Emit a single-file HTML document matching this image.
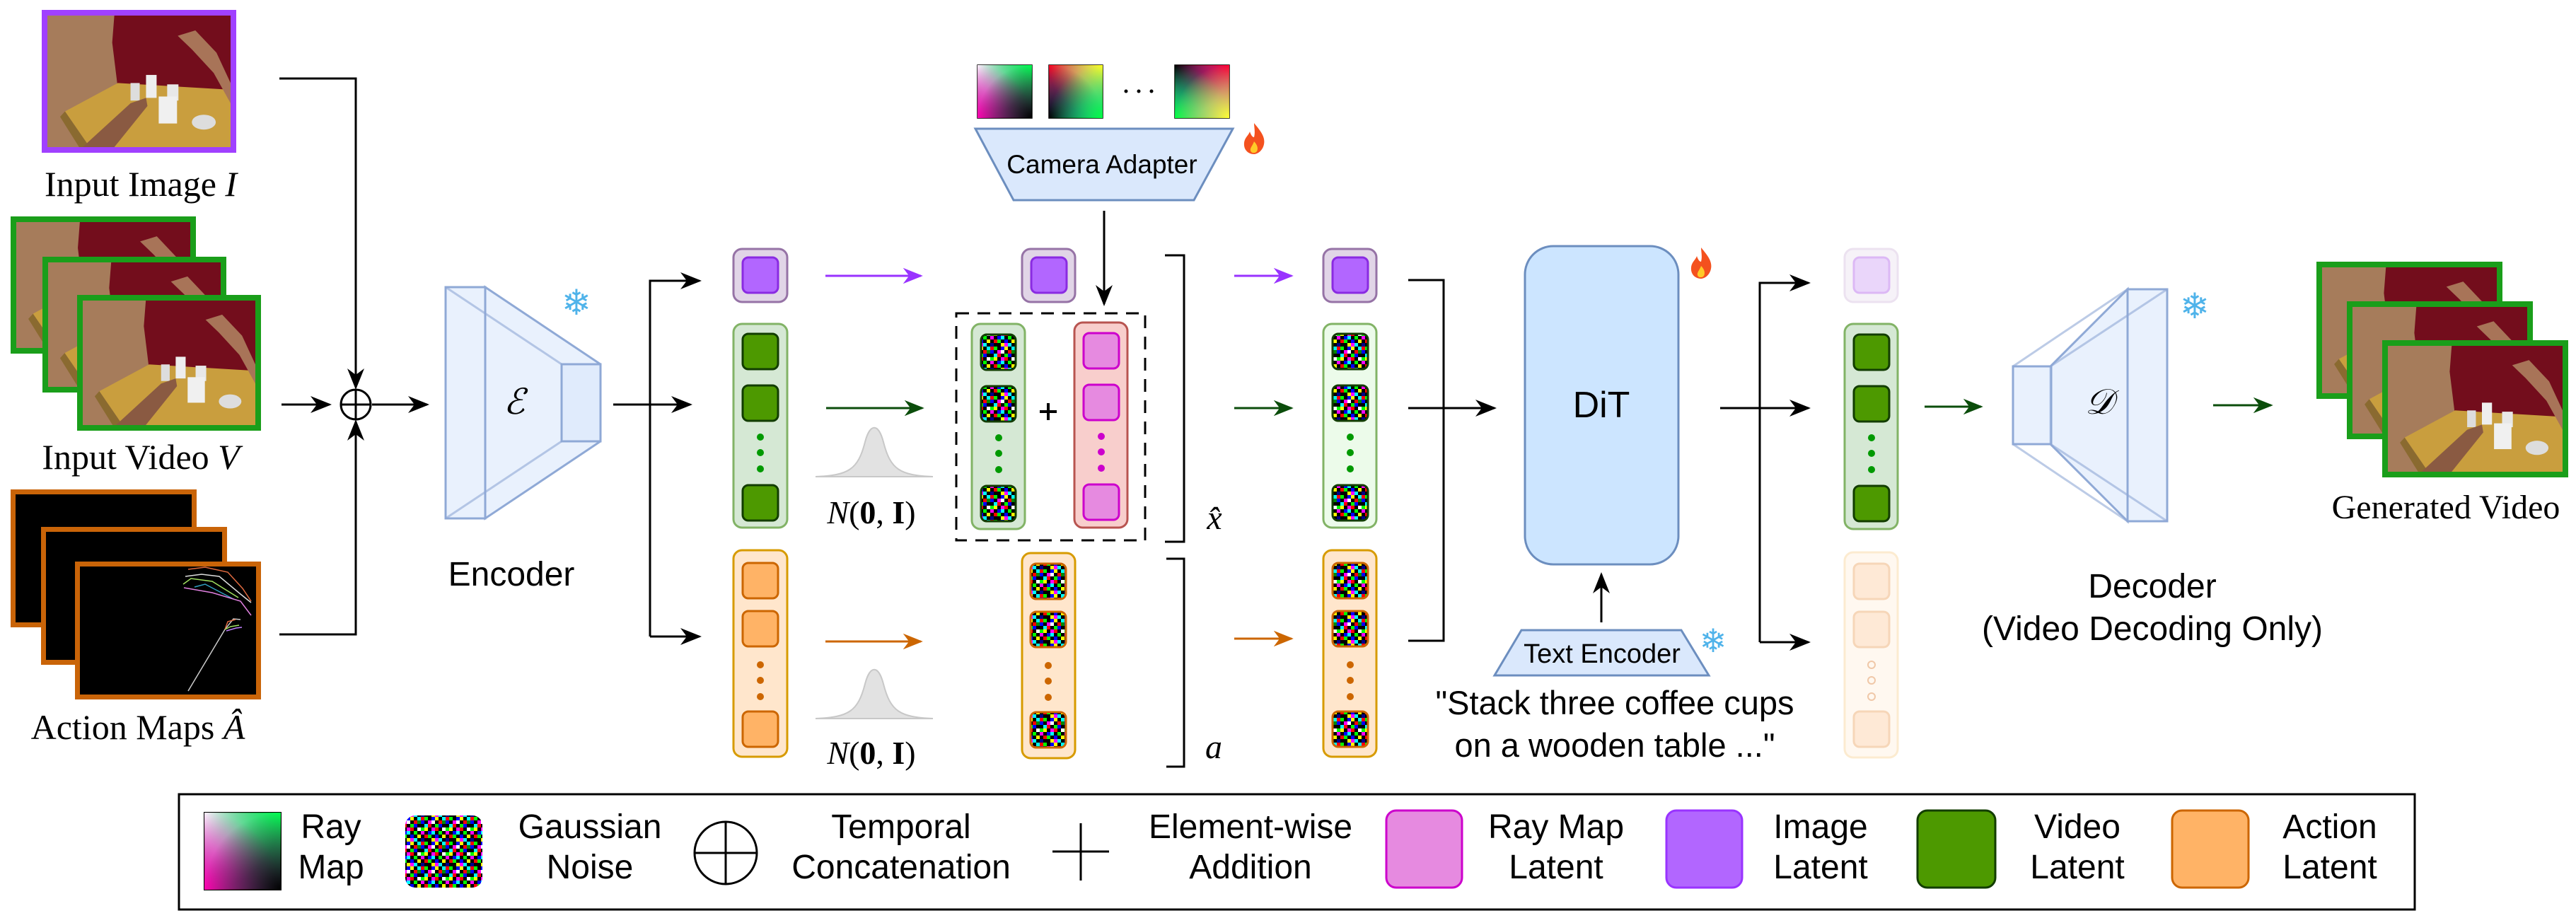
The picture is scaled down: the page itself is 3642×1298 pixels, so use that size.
<!DOCTYPE html>
<html><head><meta charset="utf-8"><style>html,body{margin:0;padding:0;background:#fff}svg{display:block}</style></head>
<body>
<svg xmlns="http://www.w3.org/2000/svg" width="3642" height="1298" viewBox="0 0 3642 1298">
<defs>
<marker id="ak" viewBox="0 0 10 10" refX="9" refY="5" markerWidth="30" markerHeight="30" markerUnits="userSpaceOnUse" orient="auto"><path d="M0,1 L10,5 L0,9 L3,5 z" fill="#000"/></marker>
<marker id="ap" viewBox="0 0 10 10" refX="9" refY="5" markerWidth="28" markerHeight="28" markerUnits="userSpaceOnUse" orient="auto"><path d="M0,1 L10,5 L0,9 L3,5 z" fill="#9933ff"/></marker>
<marker id="ag" viewBox="0 0 10 10" refX="9" refY="5" markerWidth="28" markerHeight="28" markerUnits="userSpaceOnUse" orient="auto"><path d="M0,1 L10,5 L0,9 L3,5 z" fill="#0b4d0b"/></marker>
<marker id="ao" viewBox="0 0 10 10" refX="9" refY="5" markerWidth="28" markerHeight="28" markerUnits="userSpaceOnUse" orient="auto"><path d="M0,1 L10,5 L0,9 L3,5 z" fill="#cc6600"/></marker>
<pattern id="nz" width="35" height="35" patternUnits="userSpaceOnUse">
<rect width="35" height="35" fill="#000"/>
<rect x="0" y="0" width="5" height="5" fill="#f00"/><rect x="5" y="0" width="5" height="5" fill="#0f0"/><rect x="15" y="0" width="5" height="5" fill="#00f"/><rect x="20" y="0" width="5" height="5" fill="#ff0"/><rect x="30" y="0" width="5" height="5" fill="#0ff"/>
<rect x="0" y="5" width="5" height="5" fill="#00f"/><rect x="10" y="5" width="5" height="5" fill="#f0f"/><rect x="15" y="5" width="5" height="5" fill="#fff"/><rect x="25" y="5" width="5" height="5" fill="#f00"/><rect x="30" y="5" width="5" height="5" fill="#080"/>
<rect x="5" y="10" width="5" height="5" fill="#0ff"/><rect x="10" y="10" width="5" height="5" fill="#f00"/><rect x="20" y="10" width="5" height="5" fill="#0f0"/><rect x="25" y="10" width="5" height="5" fill="#00f"/>
<rect x="0" y="15" width="5" height="5" fill="#0f0"/><rect x="5" y="15" width="5" height="5" fill="#ff0"/><rect x="15" y="15" width="5" height="5" fill="#f0f"/><rect x="20" y="15" width="5" height="5" fill="#f00"/><rect x="30" y="15" width="5" height="5" fill="#fff"/>
<rect x="0" y="20" width="5" height="5" fill="#f0f"/><rect x="10" y="20" width="5" height="5" fill="#00f"/><rect x="15" y="20" width="5" height="5" fill="#0ff"/><rect x="25" y="20" width="5" height="5" fill="#0f0"/>
<rect x="5" y="25" width="5" height="5" fill="#f00"/><rect x="10" y="25" width="5" height="5" fill="#0f0"/><rect x="20" y="25" width="5" height="5" fill="#00f"/><rect x="30" y="25" width="5" height="5" fill="#ff0"/>
<rect x="0" y="30" width="5" height="5" fill="#008"/><rect x="15" y="30" width="5" height="5" fill="#ff0"/><rect x="20" y="30" width="5" height="5" fill="#f0f"/><rect x="25" y="30" width="5" height="5" fill="#0ff"/>
</pattern>
<radialGradient id="a1" cx="0" cy="0" r="1"><stop offset="0" stop-color="#fff0ff"/><stop offset="1" stop-color="#fff0ff" stop-opacity="0"/></radialGradient>
<radialGradient id="b1" cx="1" cy="0" r="1"><stop offset="0" stop-color="#00ff50"/><stop offset="1" stop-color="#00ff50" stop-opacity="0"/></radialGradient>
<radialGradient id="c1" cx="0" cy="1" r="1"><stop offset="0" stop-color="#ff00b0"/><stop offset="1" stop-color="#ff00b0" stop-opacity="0"/></radialGradient>
<radialGradient id="d1" cx="1" cy="1" r="1"><stop offset="0" stop-color="#000"/><stop offset="1" stop-color="#000" stop-opacity="0"/></radialGradient>
<radialGradient id="a2" cx="0" cy="0" r="1"><stop offset="0" stop-color="#ff0020"/><stop offset="1" stop-color="#ff0020" stop-opacity="0"/></radialGradient>
<radialGradient id="b2" cx="1" cy="0" r="1"><stop offset="0" stop-color="#ffff20"/><stop offset="1" stop-color="#ffff20" stop-opacity="0"/></radialGradient>
<radialGradient id="c2" cx="0" cy="1" r="1"><stop offset="0" stop-color="#000"/><stop offset="1" stop-color="#000" stop-opacity="0"/></radialGradient>
<radialGradient id="d2" cx="1" cy="1" r="1"><stop offset="0" stop-color="#00ff40"/><stop offset="1" stop-color="#00ff40" stop-opacity="0"/></radialGradient>
<radialGradient id="a3" cx="0" cy="0" r="1"><stop offset="0" stop-color="#000"/><stop offset="1" stop-color="#000" stop-opacity="0"/></radialGradient>
<radialGradient id="b3" cx="1" cy="0" r="1"><stop offset="0" stop-color="#ff0030"/><stop offset="1" stop-color="#ff0030" stop-opacity="0"/></radialGradient>
<radialGradient id="c3" cx="0" cy="1" r="1"><stop offset="0" stop-color="#00ff40"/><stop offset="1" stop-color="#00ff40" stop-opacity="0"/></radialGradient>
<radialGradient id="d3" cx="1" cy="1" r="1"><stop offset="0" stop-color="#ffff30"/><stop offset="1" stop-color="#ffff30" stop-opacity="0"/></radialGradient>
<symbol id="photo" viewBox="0 0 260 195" preserveAspectRatio="none">
<rect width="260" height="195" fill="#a67c5b"/>
<path d="M95,0 H260 V125 L100,108 L92,40 Z" fill="#730d1c"/>
<path d="M25,142 L100,100 L260,110 V195 H60 Z" fill="#c99e3e"/>
<path d="M25,142 L60,195 H45 L18,150 Z" fill="#8a6a30"/>
<rect x="140" y="88" width="15" height="34" fill="#eee"/><rect x="118" y="100" width="13" height="26" fill="#ddd"/>
<rect x="170" y="102" width="16" height="24" fill="#e8e8e8"/><rect x="158" y="120" width="26" height="40" fill="#f0f0f0"/>
<ellipse cx="222" cy="158" rx="17" ry="11" fill="#ddd"/>
<path d="M50,195 L118,130 L140,122 L142,134 L95,195 Z" fill="#8a5a42"/>
<path d="M185,30 L210,22 L240,55 L260,100 L260,130 L236,85 L205,50 Z" fill="#a87458"/>
</symbol>
</defs>

<!-- Input image -->
<rect x="59" y="14" width="275" height="202" fill="#a040ff"/>
<use href="#photo" x="67" y="22" width="259" height="186"/>
<text x="199" y="277" font-family="Liberation Serif, serif" font-size="50" text-anchor="middle">Input Image <tspan font-style="italic">I</tspan></text>

<!-- Input video -->
<rect x="15" y="306" width="262" height="194" fill="#1a9e1a"/><use href="#photo" x="23" y="314" width="246" height="178"/>
<rect x="60" y="363" width="260" height="192" fill="#1a9e1a"/><use href="#photo" x="68" y="371" width="244" height="176"/>
<rect x="109" y="417" width="260" height="192" fill="#1a9e1a"/><use href="#photo" x="117" y="425" width="244" height="176"/>
<text x="199" y="663" font-family="Liberation Serif, serif" font-size="50" text-anchor="middle">Input Video <tspan font-style="italic">V</tspan></text>

<!-- Action maps -->
<rect x="15" y="692" width="263" height="195" fill="#c96408"/><rect x="22" y="699" width="249" height="181" fill="#000"/>
<rect x="58" y="745" width="263" height="195" fill="#c96408"/><rect x="65" y="752" width="249" height="181" fill="#000"/>
<rect x="106" y="794" width="263" height="195" fill="#c96408"/><rect x="113" y="801" width="249" height="181" fill="#000"/>
<g fill="none" stroke-width="1.5">
<path d="M266,805 L290,802 L322,809 L343,832 L355,850" stroke="#e06a40"/>
<path d="M262,815 L285,812 L310,815 L340,840 L355,852" stroke="#ddd"/>
<path d="M259,826 L270,818 L300,822 L337,845" stroke="#a0e060"/>
<path d="M275,830 L290,826 L330,847" stroke="#30a0c0"/>
<path d="M260,831 L300,838 L340,850 L355,870" stroke="#e080e0"/>
<path d="M266,977 L318,890 L330,875 L340,876" stroke="#ccc"/>
<path d="M318,890 L322,879 L333,876" stroke="#e06a40"/>
<path d="M318,890 L326,886 L338,884" stroke="#a0e060"/>
<path d="M320,892 L334,888 L342,887" stroke="#c080ff"/>
</g>
<text x="195" y="1045" font-family="Liberation Serif, serif" font-size="50" text-anchor="middle">Action Maps  <tspan font-style="italic">Â</tspan></text>

<!-- concat arrows -->
<g stroke="#000" stroke-width="3" fill="none">
<path d="M395,111 H503 V548" marker-end="url(#ak)"/>
<path d="M395,897 H503 V596" marker-end="url(#ak)"/>
<path d="M398,572 H466" marker-end="url(#ak)"/>
<path d="M526,572 H604" marker-end="url(#ak)"/>
<circle cx="503" cy="572" r="21"/><path d="M482,572 H524 M503,551 V593"/>
</g>

<!-- Encoder -->
<g stroke="#8fa9d6" stroke-width="3" fill="#dae8fc" fill-opacity="0.6">
<polygon points="686,406 849,515 849,624 686,733"/>
<rect x="794" y="515" width="55" height="109"/>
<rect x="630" y="406" width="56" height="327"/>
<path d="M630,406 L794,515 M630,733 L794,624" fill="none" stroke-opacity="0.6"/>
</g>
<text x="727" y="585" font-family="DejaVu Serif, serif" font-style="italic" font-size="50" text-anchor="middle">ℰ</text>
<text x="815" y="445" font-family="DejaVu Sans, sans-serif" font-size="50" fill="#4fb3ea" text-anchor="middle">❄</text>
<text x="723" y="828" font-family="Liberation Sans, sans-serif" font-size="48" text-anchor="middle">Encoder</text>

<!-- split arrows -->
<g stroke="#000" stroke-width="3" fill="none">
<path d="M867,572 H976" marker-end="url(#ak)"/>
<path d="M919,900 V397 H989" marker-end="url(#ak)"/>
<path d="M919,900 H989" marker-end="url(#ak)"/>
</g>

<!-- Column 1 -->
<rect x="1037" y="352" width="76" height="75" rx="12" fill="#e1d5e7" stroke="#9673a6" stroke-width="3"/>
<rect x="1050" y="364" width="50" height="50" rx="8" fill="#b266ff" stroke="#8a2be2" stroke-width="3"/>
<rect x="1037" y="458" width="76" height="288" rx="12" fill="#d5e8d4" stroke="#82b366" stroke-width="3"/>
<g fill="#4d9900" stroke="#123d00" stroke-width="3">
<rect x="1050" y="472" width="50" height="50" rx="8"/><rect x="1050" y="545" width="50" height="50" rx="8"/><rect x="1050" y="686" width="50" height="50" rx="8"/></g>
<g fill="#009900"><circle cx="1075" cy="618" r="5"/><circle cx="1075" cy="640" r="5"/><circle cx="1075" cy="663" r="5"/></g>
<rect x="1037" y="778" width="76" height="292" rx="12" fill="#ffe6cc" stroke="#d79b00" stroke-width="3"/>
<g fill="#ffb366" stroke="#cc6600" stroke-width="3">
<rect x="1050" y="796" width="50" height="50" rx="8"/><rect x="1050" y="864" width="50" height="50" rx="8"/><rect x="1050" y="1006" width="50" height="50" rx="8"/></g>
<g fill="#cc6600"><circle cx="1075" cy="940" r="5"/><circle cx="1075" cy="962" r="5"/><circle cx="1075" cy="985" r="5"/></g>

<!-- arrows col1->col2 -->
<path d="M1167,390 H1302" stroke="#9933ff" stroke-width="3" marker-end="url(#ap)"/>
<path d="M1168,577 H1304" stroke="#0b4d0b" stroke-width="3" marker-end="url(#ag)"/>
<path d="M1167,907 H1302" stroke="#cc6600" stroke-width="3" marker-end="url(#ao)"/>
<path d="M1153,674 C1200,672 1213,664 1223,625 C1230,598 1242,598 1249,625 C1259,664 1272,672 1319,674 Z" fill="#e2e2e2" stroke="#c8c8c8" stroke-width="2"/>
<path d="M1153,1016 C1200,1014 1213,1006 1223,967 C1230,940 1242,940 1249,967 C1259,1006 1272,1014 1319,1016 Z" fill="#e2e2e2" stroke="#c8c8c8" stroke-width="2"/>
<text x="1232" y="740" font-family="Liberation Serif, serif" font-size="46" text-anchor="middle"><tspan font-style="italic">N</tspan>(<tspan font-weight="bold">0</tspan>, <tspan font-weight="bold">I</tspan>)</text>
<text x="1232" y="1080" font-family="Liberation Serif, serif" font-size="46" text-anchor="middle"><tspan font-style="italic">N</tspan>(<tspan font-weight="bold">0</tspan>, <tspan font-weight="bold">I</tspan>)</text>

<!-- Ray maps + camera adapter -->
<g stroke="#000" stroke-width="1.5">
<rect x="1382" y="92" width="77" height="75" fill="#8080b0"/><rect x="1382" y="92" width="77" height="75" fill="url(#a1)" stroke="none"/><rect x="1382" y="92" width="77" height="75" fill="url(#b1)" stroke="none"/><rect x="1382" y="92" width="77" height="75" fill="url(#c1)" stroke="none"/><rect x="1382" y="92" width="77" height="75" fill="url(#d1)" stroke="none"/>
<rect x="1483" y="92" width="76" height="75" fill="#6080ff"/><rect x="1483" y="92" width="76" height="75" fill="url(#a2)" stroke="none"/><rect x="1483" y="92" width="76" height="75" fill="url(#b2)" stroke="none"/><rect x="1483" y="92" width="76" height="75" fill="url(#c2)" stroke="none"/><rect x="1483" y="92" width="76" height="75" fill="url(#d2)" stroke="none"/>
<rect x="1661" y="92" width="77" height="75" fill="#6060ff"/><rect x="1661" y="92" width="77" height="75" fill="url(#a3)" stroke="none"/><rect x="1661" y="92" width="77" height="75" fill="url(#b3)" stroke="none"/><rect x="1661" y="92" width="77" height="75" fill="url(#c3)" stroke="none"/><rect x="1661" y="92" width="77" height="75" fill="url(#d3)" stroke="none"/>
</g>
<g fill="#000"><circle cx="1592" cy="129" r="2.5"/><circle cx="1610" cy="129" r="2.5"/><circle cx="1628" cy="129" r="2.5"/></g>
<polygon points="1379,182 1743,182 1688,283 1433,283" fill="#dae8fc" stroke="#6c8ebf" stroke-width="3"/>
<text x="1558" y="245" font-family="Liberation Sans, sans-serif" font-size="37" text-anchor="middle">Camera Adapter</text>
<g transform="translate(1773,196)"><path d="M0,-22 C10,-10 16,-2 14,8 C12,18 4,22 0,22 C-8,22 -15,16 -14,6 C-13,-2 -8,-4 -6,-10 C-4,-4 -2,-2 0,-2 C2,-10 0,-16 0,-22Z" fill="#f4511e"/><path d="M0,4 C5,9 6,14 4,18 C2,21 -4,21 -5,17 C-6,13 -2,10 0,4Z" fill="#ffca28"/></g>
<path d="M1561,298 V430" stroke="#000" stroke-width="3" marker-end="url(#ak)"/>

<!-- Column 2 -->
<rect x="1445" y="352" width="75" height="75" rx="12" fill="#e1d5e7" stroke="#9673a6" stroke-width="3"/>
<rect x="1458" y="364" width="50" height="50" rx="8" fill="#b266ff" stroke="#8a2be2" stroke-width="3"/>
<rect x="1352" y="443" width="267" height="321" fill="none" stroke="#000" stroke-width="3" stroke-dasharray="18,12"/>
<rect x="1374" y="458" width="75" height="290" rx="12" fill="#d5e8d4" stroke="#82b366" stroke-width="3"/>
<g fill="url(#nz)" stroke="#123d00" stroke-width="3">
<rect x="1387" y="473" width="49" height="50" rx="8"/><rect x="1387" y="546" width="49" height="50" rx="8"/><rect x="1387" y="687" width="49" height="50" rx="8"/></g>
<g fill="#009900"><circle cx="1412" cy="619" r="5"/><circle cx="1412" cy="641" r="5"/><circle cx="1412" cy="664" r="5"/></g>
<path d="M1470,582 H1494 M1482,570 V594" stroke="#000" stroke-width="4"/>
<rect x="1519" y="456" width="75" height="290" rx="12" fill="#f8cecc" stroke="#b85450" stroke-width="3"/>
<g fill="#e68ae0" stroke="#cc00cc" stroke-width="3">
<rect x="1532" y="471" width="50" height="50" rx="8"/><rect x="1532" y="544" width="50" height="50" rx="8"/><rect x="1532" y="685" width="50" height="50" rx="8"/></g>
<g fill="#cc00cc"><circle cx="1557" cy="617" r="5"/><circle cx="1557" cy="639" r="5"/><circle cx="1557" cy="662" r="5"/></g>
<rect x="1445" y="782" width="75" height="290" rx="12" fill="#ffe6cc" stroke="#d79b00" stroke-width="3"/>
<g fill="url(#nz)" stroke="#cc6600" stroke-width="3">
<rect x="1457" y="797" width="50" height="50" rx="8"/><rect x="1457" y="865" width="50" height="50" rx="8"/><rect x="1457" y="1007" width="50" height="50" rx="8"/></g>
<g fill="#cc6600"><circle cx="1482" cy="941" r="5"/><circle cx="1482" cy="963" r="5"/><circle cx="1482" cy="986" r="5"/></g>

<!-- brackets -->
<path d="M1647,361 H1674 V766 H1647" fill="none" stroke="#000" stroke-width="3"/>
<path d="M1649,790 H1674 V1084 H1649" fill="none" stroke="#000" stroke-width="3"/>
<text x="1717" y="748" font-family="Liberation Serif, serif" font-style="italic" font-size="48" text-anchor="middle">x̂</text>
<text x="1716" y="1072" font-family="Liberation Serif, serif" font-style="italic" font-size="48" text-anchor="middle">a</text>

<path d="M1745,390 H1826" stroke="#9933ff" stroke-width="3" marker-end="url(#ap)"/>
<path d="M1745,577 H1826" stroke="#0b4d0b" stroke-width="3" marker-end="url(#ag)"/>
<path d="M1745,903 H1826" stroke="#cc6600" stroke-width="3" marker-end="url(#ao)"/>

<!-- Column 3 -->
<rect x="1871" y="352" width="75" height="75" rx="12" fill="#e1d5e7" stroke="#9673a6" stroke-width="3"/>
<rect x="1884" y="364" width="50" height="50" rx="8" fill="#b266ff" stroke="#8a2be2" stroke-width="3"/>
<rect x="1871" y="458" width="75" height="288" rx="12" fill="#ecfbea" stroke="#82b366" stroke-width="3"/>
<g fill="url(#nz)" stroke="#123d00" stroke-width="3">
<rect x="1884" y="472" width="50" height="50" rx="8"/><rect x="1884" y="545" width="50" height="50" rx="8"/><rect x="1884" y="686" width="50" height="50" rx="8"/></g>
<g fill="#009900"><circle cx="1909" cy="618" r="5"/><circle cx="1909" cy="640" r="5"/><circle cx="1909" cy="663" r="5"/></g>
<rect x="1871" y="778" width="75" height="292" rx="12" fill="#ffe6cc" stroke="#d79b00" stroke-width="3"/>
<g fill="url(#nz)" stroke="#cc6600" stroke-width="3">
<rect x="1884" y="796" width="50" height="50" rx="8"/><rect x="1884" y="864" width="50" height="50" rx="8"/><rect x="1884" y="1006" width="50" height="50" rx="8"/></g>
<g fill="#cc6600"><circle cx="1909" cy="940" r="5"/><circle cx="1909" cy="962" r="5"/><circle cx="1909" cy="985" r="5"/></g>

<!-- merge -->
<g stroke="#000" stroke-width="3" fill="none">
<path d="M1991,396 H2041 V906 H1991"/>
<path d="M1991,577 H2113" marker-end="url(#ak)"/>
</g>

<!-- DiT -->
<rect x="2156" y="348" width="217" height="450" rx="40" fill="#cce5ff" stroke="#6c8ebf" stroke-width="3"/>
<text x="2264" y="590" font-family="Liberation Sans, sans-serif" font-size="52" text-anchor="middle">DiT</text>
<g transform="translate(2405,372)"><path d="M0,-22 C10,-10 16,-2 14,8 C12,18 4,22 0,22 C-8,22 -15,16 -14,6 C-13,-2 -8,-4 -6,-10 C-4,-4 -2,-2 0,-2 C2,-10 0,-16 0,-22Z" fill="#f4511e"/><path d="M0,4 C5,9 6,14 4,18 C2,21 -4,21 -5,17 C-6,13 -2,10 0,4Z" fill="#ffca28"/></g>
<path d="M2264,880 V812" stroke="#000" stroke-width="3" marker-end="url(#ak)"/>
<polygon points="2151,891 2377,891 2416,955 2113,955" fill="#dae8fc" stroke="#6c8ebf" stroke-width="3"/>
<text x="2265" y="937" font-family="Liberation Sans, sans-serif" font-size="38" text-anchor="middle">Text Encoder</text>
<text x="2422" y="922" font-family="DejaVu Sans, sans-serif" font-size="46" fill="#4fb3ea" text-anchor="middle">❄</text>
<text x="2283" y="1010" font-family="Liberation Sans, sans-serif" font-size="47" text-anchor="middle">"Stack three coffee cups</text>
<text x="2283" y="1070" font-family="Liberation Sans, sans-serif" font-size="47" text-anchor="middle">on a wooden table ..."</text>

<!-- split after DiT -->
<g stroke="#000" stroke-width="3" fill="none">
<path d="M2432,577 H2557" marker-end="url(#ak)"/>
<path d="M2488,908 V400 H2557" marker-end="url(#ak)"/>
<path d="M2488,908 H2557" marker-end="url(#ak)"/>
</g>

<!-- Column 4 -->
<rect x="2608" y="352" width="75" height="75" rx="12" fill="#f6f2f8" stroke="#ece2f0" stroke-width="3"/>
<rect x="2621" y="364" width="50" height="50" rx="8" fill="#ead6fa" stroke="#dcb8f5" stroke-width="3"/>
<rect x="2608" y="458" width="75" height="290" rx="12" fill="#d5e8d4" stroke="#82b366" stroke-width="3"/>
<g fill="#4d9900" stroke="#123d00" stroke-width="3">
<rect x="2621" y="473" width="50" height="50" rx="8"/><rect x="2621" y="546" width="50" height="50" rx="8"/><rect x="2621" y="687" width="50" height="50" rx="8"/></g>
<g fill="#009900"><circle cx="2646" cy="619" r="5"/><circle cx="2646" cy="641" r="5"/><circle cx="2646" cy="664" r="5"/></g>
<rect x="2608" y="781" width="75" height="290" rx="12" fill="#fff8f0" stroke="#fcebd0" stroke-width="3"/>
<g fill="#fee9d6" stroke="#f6d6b8" stroke-width="3">
<rect x="2621" y="797" width="50" height="50" rx="8"/><rect x="2621" y="865" width="50" height="50" rx="8"/><rect x="2621" y="1006" width="50" height="50" rx="8"/></g>
<g fill="none" stroke="#f0c8a8" stroke-width="2"><circle cx="2646" cy="940" r="5"/><circle cx="2646" cy="962" r="5"/><circle cx="2646" cy="985" r="5"/></g>

<path d="M2721,575 H2801" stroke="#0b4d0b" stroke-width="3" marker-end="url(#ag)"/>

<!-- Decoder -->
<g stroke="#8fa9d6" stroke-width="3" fill="#dae8fc" fill-opacity="0.6">
<polygon points="2899,518 3008,409 3008,737 2899,628"/>
<rect x="2846" y="518" width="54" height="110"/>
<rect x="3008" y="409" width="56" height="328"/>
<path d="M2846,518 L3008,409 M2846,628 L3008,737 M3064,409 L2899,518 M3064,737 L2899,628" fill="none" stroke-opacity="0.6"/>
</g>
<text x="2968" y="585" font-family="DejaVu Serif, serif" font-style="italic" font-size="50" text-anchor="middle">𝒟</text>
<text x="3103" y="450" font-family="DejaVu Sans, sans-serif" font-size="50" fill="#4fb3ea" text-anchor="middle">❄</text>
<text x="3043" y="845" font-family="Liberation Sans, sans-serif" font-size="48" text-anchor="middle">Decoder</text>
<text x="3043" y="905" font-family="Liberation Sans, sans-serif" font-size="48" text-anchor="middle">(Video Decoding Only)</text>
<path d="M3129,573 H3211" stroke="#0b4d0b" stroke-width="3" marker-end="url(#ag)"/>

<!-- Generated video -->
<rect x="3275" y="370" width="263" height="194" fill="#1a9e1a"/><use href="#photo" x="3283" y="378" width="247" height="178"/>
<rect x="3318" y="426" width="263" height="195" fill="#1a9e1a"/><use href="#photo" x="3326" y="434" width="247" height="179"/>
<rect x="3368" y="481" width="263" height="194" fill="#1a9e1a"/><use href="#photo" x="3376" y="489" width="247" height="178"/>
<text x="3458" y="733" font-family="Liberation Serif, serif" font-size="48" text-anchor="middle">Generated Video</text>

<!-- Legend -->
<rect x="253" y="1123" width="3161" height="163" fill="#fff" stroke="#000" stroke-width="3"/>
<g font-family="Liberation Sans, sans-serif" font-size="48" text-anchor="middle">
<rect x="289" y="1149" width="108" height="109" fill="#8080b0" stroke="#000" stroke-width="2"/><rect x="289" y="1149" width="108" height="109" fill="url(#a1)"/><rect x="289" y="1149" width="108" height="109" fill="url(#b1)"/><rect x="289" y="1149" width="108" height="109" fill="url(#c1)"/><rect x="289" y="1149" width="108" height="109" fill="url(#d1)"/>
<text x="468" y="1185">Ray</text><text x="468" y="1242">Map</text>
<rect x="573" y="1153" width="109" height="102" rx="14" fill="url(#nz)"/>
<text x="834" y="1185">Gaussian</text><text x="834" y="1242">Noise</text>
<circle cx="1026" cy="1206" r="44" fill="none" stroke="#000" stroke-width="3"/><path d="M982,1206 H1070 M1026,1162 V1250" stroke="#000" stroke-width="3"/>
<text x="1274" y="1185">Temporal</text><text x="1274" y="1242">Concatenation</text>
<path d="M1488,1204 H1568 M1528,1164 V1245" stroke="#000" stroke-width="3"/>
<text x="1768" y="1185">Element-wise</text><text x="1768" y="1242">Addition</text>
<rect x="1960" y="1146" width="107" height="109" rx="14" fill="#e68ae0" stroke="#cc00cc" stroke-width="3"/>
<text x="2200" y="1185">Ray Map</text><text x="2200" y="1242">Latent</text>
<rect x="2356" y="1146" width="107" height="109" rx="14" fill="#b266ff" stroke="#9933ff" stroke-width="3"/>
<text x="2574" y="1185">Image</text><text x="2574" y="1242">Latent</text>
<rect x="2711" y="1146" width="110" height="109" rx="14" fill="#4d9900" stroke="#123d00" stroke-width="3"/>
<text x="2937" y="1185">Video</text><text x="2937" y="1242">Latent</text>
<rect x="3071" y="1146" width="108" height="109" rx="14" fill="#ffb366" stroke="#cc6600" stroke-width="3"/>
<text x="3294" y="1185">Action</text><text x="3294" y="1242">Latent</text>
</g>
</svg>
</body></html>
